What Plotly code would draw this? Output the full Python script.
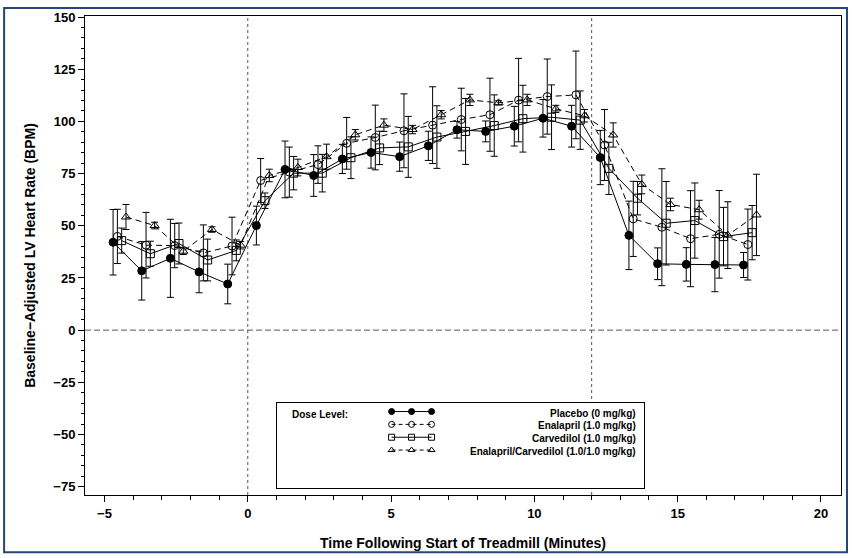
import plotly.graph_objects as go

# ---------------- data ----------------
placebo_t = [-4.7, -3.7, -2.7, -1.7, -0.7, 0.3, 1.3, 2.3, 3.3, 4.3, 5.3, 6.3,
             7.3, 8.3, 9.3, 10.3, 11.3, 12.3, 13.3, 14.3, 15.3, 16.3, 17.3]
placebo_y = [42.1, 28.4, 34.4, 27.9, 22.1, 50.1, 77.0, 74.1, 82.0, 85.1, 83.1, 88.3,
             96.0, 95.2, 97.7, 101.5, 97.7, 82.7, 45.4, 31.8, 31.5, 31.4, 31.2]
placebo_e = [15.7, 14.0, 18.7, 10.0, 9.5, 9.3, 13.6, 10.0, 7.0, 7.5, 7.0, 7.0,
             4.0, 5.0, 9.5, 9.0, 10.0, 13.0, 16.4, 7.6, 8.0, 13.0, 6.0]

enal_t = [-4.55, -3.55, -2.55, -1.55, -0.55, 0.45, 1.45, 2.45, 3.45, 4.45, 5.45, 6.45,
          7.45, 8.45, 9.45, 10.45, 11.45, 12.45, 13.45, 14.45, 15.45, 16.45, 17.45]
enal_y = [44.9, 40.7, 40.5, 37.0, 40.3, 71.7, 75.7, 79.3, 89.5, 92.3, 95.5, 98.2,
          100.9, 103.2, 110.2, 111.9, 112.7, 88.7, 53.3, 49.3, 43.8, 45.9, 41.0]
enal_e = [13.0, 15.7, 10.6, 13.4, 13.8, 10.5, 12.0, 9.0, 12.4, 15.5, 17.7, 18.4,
          15.0, 17.5, 20.0, 18.0, 21.0, 17.0, 18.0, 28.0, 23.0, 21.0, 17.0]

carv_t = [-4.4, -3.4, -2.4, -1.4, -0.4, 0.6, 1.6, 2.6, 3.6, 4.6, 5.6, 6.6,
          7.6, 8.6, 9.6, 10.6, 11.6, 12.6, 13.6, 14.6, 15.6, 16.6, 17.6]
carv_y = [42.9, 36.6, 41.5, 33.6, 38.2, 62.0, 75.2, 75.2, 82.6, 87.3, 87.8, 92.5,
          95.2, 98.0, 101.3, 102.0, 100.6, 77.5, 63.2, 51.2, 52.5, 44.8, 46.7]
carv_e = [6.0, 6.0, 9.8, 10.0, 5.0, 3.7, 8.0, 9.0, 10.0, 8.0, 14.6, 15.0,
          15.8, 14.7, 16.0, 15.5, 14.0, 12.5, 8.0, 20.0, 18.0, 14.0, 13.0]

combo_t = [-4.25, -3.25, -2.25, -1.25, -0.25, 0.75, 1.75, 2.75, 3.75, 4.75, 5.75, 6.75,
           7.75, 8.75, 9.75, 10.75, 11.75, 12.75, 13.75, 14.75, 15.75, 16.75, 17.75]
combo_y = [54.2, 50.1, 37.8, 48.2, 40.7, 74.1, 77.9, 83.1, 93.6, 98.2, 96.1, 103.2,
           110.3, 108.9, 110.3, 106.0, 102.7, 93.5, 69.8, 60.2, 57.7, 45.5, 55.2]
combo_e = [6.0, 1.6, 1.6, 1.3, 1.8, 3.0, 4.0, 6.0, 2.5, 3.0, 2.0, 2.0,
           2.7, 1.0, 2.7, 1.7, 3.0, 5.8, 4.5, 3.0, 4.5, 16.0, 19.5]

series_names = ["Placebo (0 mg/kg)", "Enalapril (1.0 mg/kg)",
                "Carvedilol (1.0 mg/kg)", "Enalapril/Carvedilol (1.0/1.0 mg/kg)"]
legend_title = "Dose Level:"
ref_x = [0, 12]
ref_y = [0]
x_ticks = [-5, 0, 5, 10, 15, 20]
y_ticks = [-75, -50, -25, 0, 25, 50, 75, 100, 125, 150]
x_title = "Time Following Start of Treadmill (Minutes)"
y_title = "Baseline\u2212Adjusted LV Heart Rate (BPM)"

# ---------------- styling ----------------
FONT = "Liberation Sans Narrow, Arial Narrow, Liberation Sans, Arial, sans-serif"
styles = [
    dict(symbol="circle", dash="solid"),
    dict(symbol="circle-open", dash="6px,4px"),
    dict(symbol="square-open", dash="solid"),
    dict(symbol="triangle-up-open", dash="6px,4px"),
]

data = [(placebo_t, placebo_y, placebo_e), (enal_t, enal_y, enal_e),
        (carv_t, carv_y, carv_e), (combo_t, combo_y, combo_e)]

fig = go.Figure()
for (t, y, e), st, nm in zip(data, styles, series_names):
    fig.add_trace(go.Scatter(
        x=t, y=y, name=nm, mode="lines+markers",
        line=dict(color="black", width=1, dash=st["dash"]),
        marker=dict(symbol=st["symbol"], size=8, color="black",
                    line=dict(color="black", width=1)),
        error_y=dict(type="data", array=e, visible=True, color="black",
                     thickness=1, width=3.5),
        showlegend=False, cliponaxis=False,
    ))

# reference lines
for xv in ref_x:
    fig.add_shape(type="line", xref="x", yref="y domain", x0=xv, x1=xv, y0=0, y1=1,
                  line=dict(color="#555555", width=1, dash="3px,3px"), layer="below")
for yv in ref_y:
    fig.add_shape(type="line", xref="x domain", yref="y", x0=0, x1=1, y0=yv, y1=yv,
                  line=dict(color="#555555", width=1, dash="6px,3px"), layer="below")

# ---------------- custom legend as an inset subplot ----------------
W, H = 852, 558
ML, MR, MT, MB = 85, 10, 12, 61
PW, PH = W - ML - MR, H - MT - MB
box_l, box_r, box_t, box_b = 277, 645, 404, 490
lx0 = (box_l - ML) / PW
lx1 = (box_r - ML) / PW
ly0 = (H - MB - box_b) / PH
ly1 = (H - MB - box_t) / PH
bw, bh = box_r - box_l, box_b - box_t

sample_x = [115, 135, 155]
row_y = [8.5, 21.5, 34.5, 47.5]
for st, ry in zip(styles, row_y):
    fig.add_trace(go.Scatter(
        x=sample_x, y=[ry] * 3, mode="lines+markers", xaxis="x2", yaxis="y2",
        line=dict(color="black", width=1,
                  dash="4px,3px" if st["dash"] != "solid" else "solid"),
        marker=dict(symbol=st["symbol"], size=6, color="black",
                    line=dict(color="black", width=1)),
        showlegend=False, hoverinfo="skip"))

annots = [dict(x=13, y=11, xref="x2", yref="y2", text=legend_title, showarrow=False,
               xanchor="left", yanchor="middle",
               font=dict(family=FONT, size=10, color="black", weight="bold"))]
for nm, ry in zip(series_names, row_y):
    annots.append(dict(x=bw - 6, y=ry + 1.5, xref="x2", yref="y2", text=nm,
                       showarrow=False, xanchor="right", yanchor="middle",
                       font=dict(family=FONT, size=10, color="black", weight="bold")))


def px2paper_x(p):
    return (p - ML) / PW


def px2paper_y(p):
    return (H - MB - p) / PH


# figure border
fig.add_shape(type="rect", xref="paper", yref="paper",
              x0=px2paper_x(4), x1=px2paper_x(848), y0=px2paper_y(555), y1=px2paper_y(4),
              line=dict(color="#24477A", width=2), fillcolor="rgba(0,0,0,0)", layer="above")

tickfont = dict(family=FONT, size=13, color="black", weight="bold")
titlefont = dict(family=FONT, size=14, color="black", weight="bold")

fig.update_layout(
    width=W, height=H,
    margin=dict(l=ML, r=MR, t=MT, b=MB),
    paper_bgcolor="white", plot_bgcolor="white",
    annotations=annots,
    xaxis=dict(range=[-5.68, 20.70], tickvals=x_ticks, ticks="outside", ticklen=6,
               tickcolor="black", showline=True, linecolor="black", linewidth=1,
               mirror=True, showgrid=False, zeroline=False, tickfont=tickfont,
               minor=dict(dtick=1, tick0=0, ticks="outside", ticklen=4, tickcolor="black"),
               title=dict(text=x_title, font=titlefont, standoff=18)),
    yaxis=dict(range=[-79.0, 150.5], tickvals=y_ticks, ticks="outside", ticklen=6,
               tickcolor="black", showline=True, linecolor="black", linewidth=1,
               mirror=True, showgrid=False, zeroline=False, tickfont=tickfont,
               minor=dict(dtick=5, tick0=0, ticks="outside", ticklen=3, tickcolor="black"),
               title=dict(text=y_title, font=titlefont, standoff=14)),
    xaxis2=dict(domain=[lx0, lx1], range=[0, bw], anchor="y2", showline=True,
                linecolor="black", linewidth=1, mirror=True, showgrid=False,
                zeroline=False, showticklabels=False, ticks="", fixedrange=True),
    yaxis2=dict(domain=[ly0, ly1], range=[bh, 0], anchor="x2", showline=True,
                linecolor="black", linewidth=1, mirror=True, showgrid=False,
                zeroline=False, showticklabels=False, ticks="", fixedrange=True),
)

fig.write_html("out.html")
